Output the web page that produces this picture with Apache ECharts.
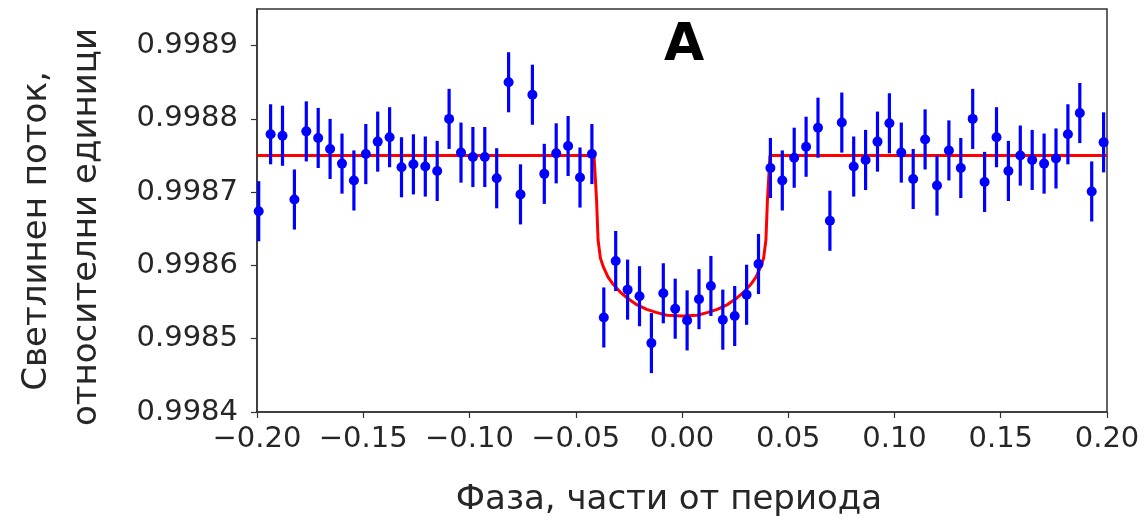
<!DOCTYPE html>
<html>
<head>
<meta charset="utf-8">
<script src="https://cdn.jsdelivr.net/npm/echarts@6/dist/echarts.min.js"></script>
<style>
html,body{margin:0;padding:0;background:#fff;}
#chart{width:1148px;height:529px;}
</style>
</head>
<body>
<div id="chart"></div>
<script>
// ---- data ----
const phase = [
 -0.1992,-0.1936,-0.1880,-0.1824,-0.1768,-0.1712,-0.1656,-0.1600,-0.1544,-0.1488,
 -0.1432,-0.1376,-0.1320,-0.1264,-0.1208,-0.1152,-0.1096,-0.1040,-0.0984,-0.0928,
 -0.0872,-0.0816,-0.0760,-0.0704,-0.0648,-0.0592,-0.0536,-0.0480,-0.0424,-0.0368,
 -0.0312,-0.0256,-0.0200,-0.0144,-0.0088,-0.0032, 0.0024, 0.0080, 0.0136, 0.0192,
  0.0248, 0.0304, 0.0360, 0.0416, 0.0472, 0.0528, 0.0584, 0.0640, 0.0696, 0.0752,
  0.0808, 0.0864, 0.0920, 0.0976, 0.1032, 0.1088, 0.1144, 0.1200, 0.1256, 0.1312,
  0.1368, 0.1424, 0.1480, 0.1536, 0.1592, 0.1648, 0.1704, 0.1760, 0.1816, 0.1872,
  0.1928, 0.1984
];
const flux = [
 0.998674,0.998779,0.998777,0.998690,0.998783,0.998774,0.998759,0.998739,0.998716,0.998752,
 0.998769,0.998775,0.998734,0.998738,0.998735,0.998729,0.998800,0.998754,0.998748,0.998748,
 0.998719,0.998850,0.998697,0.998833,0.998725,0.998753,0.998763,0.998720,0.998752,0.998529,
 0.998606,0.998567,0.998558,0.998494,0.998562,0.998541,0.998525,0.998554,0.998572,0.998526,
 0.998531,0.998560,0.998602,0.998733,0.998716,0.998747,0.998762,0.998788,0.998661,0.998795,
 0.998735,0.998744,0.998769,0.998794,0.998754,0.998718,0.998772,0.998709,0.998757,0.998733,
 0.998800,0.998714,0.998775,0.998729,0.998750,0.998744,0.998739,0.998746,0.998779,0.998808,
 0.998701,0.998768
];
const fluxError = 0.000041;

// model curve (red)
const modelPhase = [-0.2000,-0.0414,-0.0402,-0.0395,-0.0384,-0.0370,-0.0348,-0.0323,-0.0292,-0.0260,
  -0.0216,-0.0166,-0.0122,-0.0072,0.0000,0.0072,0.0122,0.0166,0.0216,0.0260,
  0.0292,0.0323,0.0348,0.0370,0.0384,0.0395,0.0402,0.0414,0.2000];
const modelFlux = [0.998750,0.998750,0.998689,0.998635,0.998610,0.998598,0.998584,0.998574,0.998564,0.998556,
  0.998547,0.998540,0.998536,0.998532,0.998531,0.998532,0.998536,0.998540,0.998547,0.998556,
  0.998564,0.998574,0.998584,0.998598,0.998610,0.998635,0.998689,0.998750,0.998750];

const xTicks = {min:-0.2, max:0.2, step:0.05};
const yTicks = {min:0.9984, max:0.99895, step:0.0001};

const xAxisTitle = 'Фаза, части от периода';
const yTitleLine1 = 'Светлинен поток,';
const yTitleLine2 = 'относителни единици';
const panelLabel = 'A';

// ---- chart ----
const points = phase.map((p,i)=>[p, flux[i], fluxError]);
const model = modelPhase.map((p,i)=>[p, modelFlux[i]]);

const chart = echarts.init(document.getElementById('chart'), null, {renderer:'canvas'});
const axisColor = '#333333';
const labelColor = '#262626';
chart.setOption({
  animation:false,
  backgroundColor:'#ffffff',
  grid:{left:257, right:41, top:9, bottom:117, show:true, borderColor:axisColor, borderWidth:1.5, backgroundColor:'transparent'},
  xAxis:{
    type:'value', min:xTicks.min, max:xTicks.max, interval:xTicks.step,
    axisLine:{show:true, onZero:false, lineStyle:{color:axisColor, width:1.5}},
    axisTick:{show:true, inside:false, length:6, lineStyle:{color:axisColor, width:1.2}},
    splitLine:{show:false},
    axisLabel:{color:labelColor, fontFamily:'DejaVu Sans', fontSize:29, margin:13,
      formatter:v=>{const s=Math.abs(v).toFixed(2); return (v< -1e-9?'\u2212':'')+s;}}
  },
  yAxis:{
    type:'value', min:yTicks.min, max:yTicks.max, interval:yTicks.step,
    axisLine:{show:true, onZero:false, lineStyle:{color:axisColor, width:1.5}},
    axisTick:{show:true, inside:false, length:6, lineStyle:{color:axisColor, width:1.2}},
    splitLine:{show:false},
    axisLabel:{color:labelColor, fontFamily:'DejaVu Sans', fontSize:29, margin:19, showMaxLabel:false,
      formatter:v=>{const k=Math.round((v-yTicks.min)/yTicks.step); if(Math.abs(v-(yTicks.min+k*yTicks.step))>1e-8) return ''; return v.toFixed(4);}}
  },
  graphic:[
    {type:'text', x:669, y:500, style:{text:xAxisTitle, fontFamily:'DejaVu Sans', fontSize:34, fill:labelColor, textAlign:'center', textVerticalAlign:'middle'}},
    {type:'text', x:37, y:231, rotation:Math.PI/2, style:{text:yTitleLine1, fontFamily:'DejaVu Sans', fontSize:34, fill:labelColor, textAlign:'center', textVerticalAlign:'middle'}},
    {type:'text', x:87, y:227, rotation:Math.PI/2, style:{text:yTitleLine2, fontFamily:'DejaVu Sans', fontSize:34, fill:labelColor, textAlign:'center', textVerticalAlign:'middle'}},
    {type:'text', x:684, y:46, style:{text:panelLabel, fontFamily:'DejaVu Sans', fontWeight:'bold', fontSize:52, fill:'#000000', textAlign:'center', textVerticalAlign:'middle'}}
  ],
  series:[
    {type:'line', data:model, showSymbol:false, symbol:'none', lineStyle:{color:'#ff0000', width:3}, z:2, clip:true},
    {type:'custom', data:points, z:3, clip:true,
      renderItem:(params, api)=>{
        const x=api.value(0), y=api.value(1), e=api.value(2);
        const a=api.coord([x,y+e]), b=api.coord([x,y-e]);
        return {type:'line', shape:{x1:a[0],y1:a[1],x2:b[0],y2:b[1]}, style:{stroke:'#0000ff', lineWidth:3.2}};
      },
      encode:{x:0,y:1}
    },
    {type:'scatter', data:points.map(p=>[p[0],p[1]]), symbol:'circle', symbolSize:10, itemStyle:{color:'#0000ff', opacity:1}, z:4, clip:true}
  ]
});
</script>
</body>
</html>
